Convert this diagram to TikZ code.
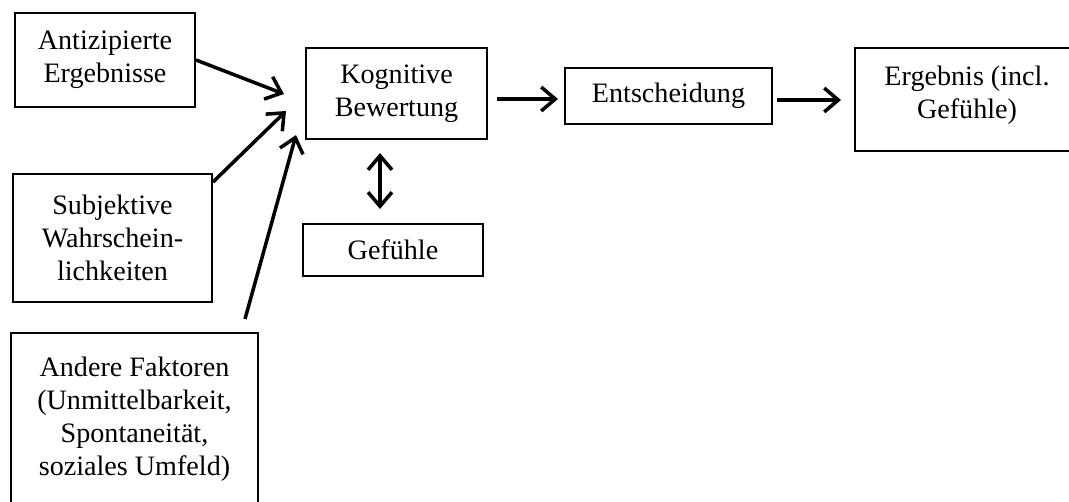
\documentclass[tikz,border=0pt]{standalone}
\usepackage{fontspec}
\setmainfont{Liberation Serif}
\usepackage{tikz}
\usetikzlibrary{arrows.meta,positioning,calc}

\tikzset{
  box/.style={draw, line width=1.4pt, align=center, inner sep=0pt,
    font=\fontsize{20}{23.5}\selectfont},
  flow/.style={line width=2.5pt},
}

\begin{document}
\begin{tikzpicture}[x=0.025cm, y=-0.025cm,
    >={Straight Barb[length=10pt, width=17pt, line width=2.5pt]}]
        \useasboundingbox (0,0) rectangle (1069,501);

        % Inputs
        \node[box, minimum width=4.5cm, minimum height=2.35cm] (A) at (105,60) {Antizipierte\\Ergebnisse};
        \node[box, minimum width=4.975cm, minimum height=3.2cm] (S) at (112.5,238) {Subjektive\\Wahrschein-\\lichkeiten};
        \node[box, minimum width=6.175cm, minimum height=4.3cm] (F) at (134.5,419) {Andere Faktoren\\(Unmittelbarkeit,\\Spontaneität,\\soziales Umfeld)};

        % Evaluation and decision
        \node[box, minimum width=4.525cm, minimum height=2.275cm] (K) at (396.5,93.5) {Kognitive\\Bewertung};
        \node[box, minimum width=4.5cm, minimum height=1.3cm] (G) at (393,250) {Gefühle};
        \node[box, minimum width=5.175cm, minimum height=1.4cm] (E) at (668.5,96) {Entscheidung};
        \node[box, minimum width=5.6cm, minimum height=2.575cm, text depth=0.35cm] (R) at (967,99.5) {Ergebnis (incl.\\Gefühle)};

        % Arrows into the evaluation
        \draw[flow, ->] (A.east) -- ($(K.west)+(-21,0.5)$);
        \draw[flow, ->] ($(S.north east)+(0,9)$) -- ($(K.west)+(-19,17.5)$);
        \draw[flow, ->] ($(F.north)+(110.5,-13)$) -- ($(K.west)+(-9,41.5)$);

        % Feelings
        \draw[flow, <->] ($(K.south)+(-16.5,13)$) -- ($(G.north)+(-13,-14)$);

        % Chain to the result
        \draw[flow, ->] ($(K.east)+(9,5.5)$) -- ($(E.west)+(-6,3)$);
        \draw[flow, ->] ($(E.east)+(4,4)$) -- ($(R.west)+(-13,0.5)$);
      \end{tikzpicture}
\end{document}
